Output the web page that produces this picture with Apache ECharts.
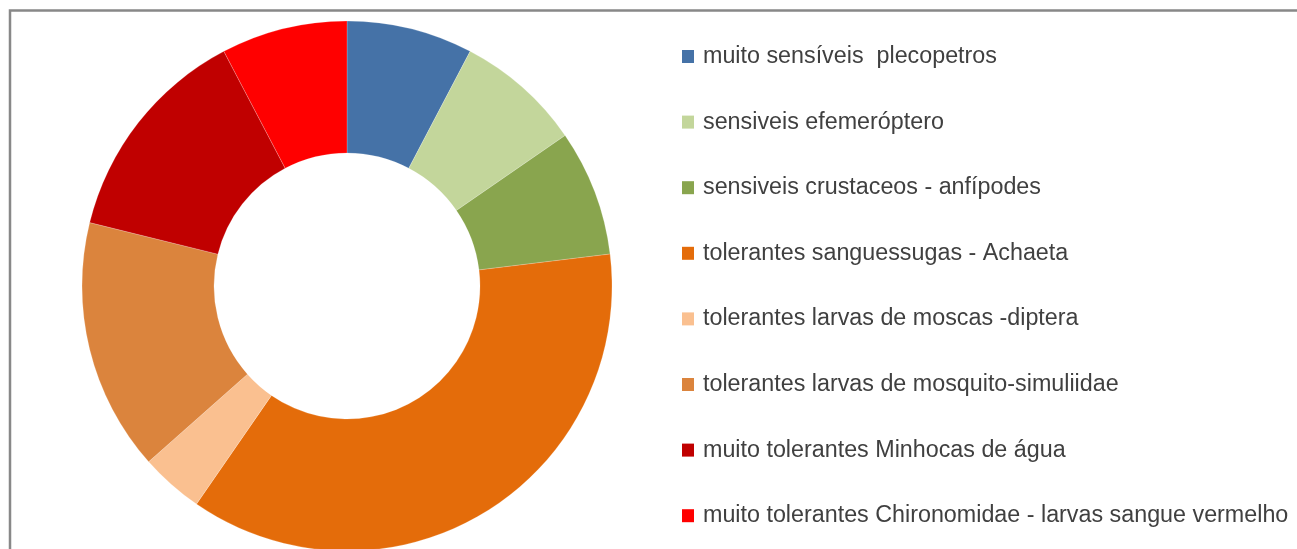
<!DOCTYPE html>
<html>
<head>
<meta charset="utf-8">
<script src="https://cdn.jsdelivr.net/npm/echarts@6/dist/echarts.min.js"></script>
<style>
  html, body { margin: 0; padding: 0; background: #fff; }
  #main { width: 1297px; height: 549px; }
</style>
</head>
<body>
<div id="main"></div>
<script>
var names = [
	'muito sensíveis  plecopetros',
	'sensiveis efemeróptero',
	'sensiveis crustaceos - anfípodes',
	'tolerantes sanguessugas - Achaeta',
	'tolerantes larvas de moscas -diptera',
	'tolerantes larvas de mosquito-simuliidae',
	'muito tolerantes Minhocas de água',
	'muito tolerantes Chironomidae - larvas sangue vermelho'
]
var values = [4, 4, 4, 19, 2, 8, 7, 4]
var colors = ['#4572A7', '#C3D69B', '#89A54E', '#E46C0A', '#FAC090', '#DB843D', '#C00000', '#FF0000']

var myChart = echarts.init(document.getElementById('main'))

var option = {
	animation: false,
	color: colors,
	graphic: [
		{
			type: 'rect',
			shape: { x: 10, y: 10.5, width: 2000, height: 1000 },
			style: { fill: 'none', stroke: '#888', lineWidth: 2.5 },
		},
	],
	legend: {
		orient: 'vertical',
		left: 677,
		top: 40,
		itemWidth: 12,
		itemHeight: 13,
		itemGap: 42.6,
		icon: 'rect',
		itemStyle: { borderWidth: 0 },
		textStyle: {
			fontFamily: 'Liberation Sans',
			fontSize: 23.3,
			lineHeight: 22,
			color: '#404040',
			padding: [0, 0, 0, 4],
		},
		data: names,
	},
	series: [
		{
			type: 'pie',
			center: [347, 286],
			radius: [133, 265],
			startAngle: 90,
			clockwise: true,
			label: { show: false },
			labelLine: { show: false },
			itemStyle: { borderColor: 'rgba(255,255,255,0.4)', borderWidth: 0.5 },
			data: names.map(function (n, i) {
				return { name: n, value: values[i] }
			}),
		},
	],
}
myChart.setOption(option)
</script>
</body>
</html>
